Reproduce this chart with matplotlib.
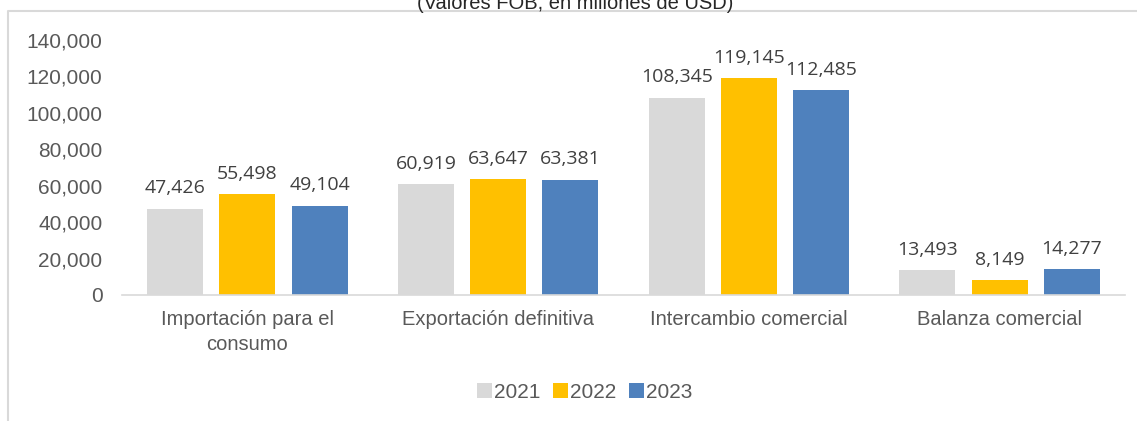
import matplotlib.pyplot as plt
import numpy as np

categories = ['Importación para el\nconsumo', 'Exportación definitiva',
              'Intercambio comercial', 'Balanza comercial']
years = ['2021', '2022', '2023']
v2021 = [47426, 60919, 108345, 13493]
v2022 = [55498, 63647, 119145, 8149]
v2023 = [49104, 63381, 112485, 14277]
colors = ['#D9D9D9', '#FFC000', '#4F81BD']

grey = '#595959'
fig = plt.figure(figsize=(11.37, 4.21), dpi=100)
ax = fig.add_axes([122/1137, 1-295/421, 1003/1137, 255/421])

x = np.arange(len(categories))
w = 0.224
step = 0.288
for i, (vals, c) in enumerate(zip([v2021, v2022, v2023], colors)):
    bars = ax.bar(x + (i-1)*step, vals, width=w, color=c, label=years[i], zorder=2)
    for b, v in zip(bars, vals):
        ax.annotate(f'{v:,}', (b.get_x() + b.get_width()/2, v), xytext=(0, 11),
                    textcoords='offset points', ha='center', va='baseline',
                    fontsize=14, family='Open Sans', color='#404040')

ax.set_xlim(-0.5, 3.5)
ax.set_ylim(0, 140000)
ax.set_yticks(range(0, 140001, 20000))
ax.set_yticklabels([f'{t:,}' for t in range(0, 140001, 20000)],
                   fontsize=15, family='Liberation Sans', color=grey)
ax.set_xticks(x)
ax.set_xticklabels(categories, fontsize=14.5, family='Liberation Sans', color=grey,
                   linespacing=1.35)
ax.tick_params(axis='y', length=0, pad=14)
ax.tick_params(axis='x', length=0, pad=11)
for s in ['top', 'right', 'left']:
    ax.spines[s].set_visible(False)
ax.spines['bottom'].set_color('#D9D9D9')
ax.spines['bottom'].set_linewidth(1.2)

leg = fig.legend(loc='center', bbox_to_anchor=(585/1137, 1-392/421), ncol=3,
                 frameon=False, prop={'family': 'Liberation Sans', 'size': 15},
                 handlelength=0.7, handleheight=0.7, handletextpad=0.12,
                 columnspacing=0.6)
for t in leg.get_texts():
    t.set_color(grey)

fig.text(575/1137, 1-9/421, '(Valores FOB, en millones de USD)', ha='center',
         va='baseline', fontsize=14.5, family='Liberation Sans', color='#262626')

# chart frame (only top and left edges visible)
fig.add_artist(plt.Line2D([8/1137, 8/1137, 1.0], [0, 1-11/421, 1-11/421],
                          transform=fig.transFigure, color='#D9D9D9', lw=1.5))

fig.savefig('out.png', dpi=100)
